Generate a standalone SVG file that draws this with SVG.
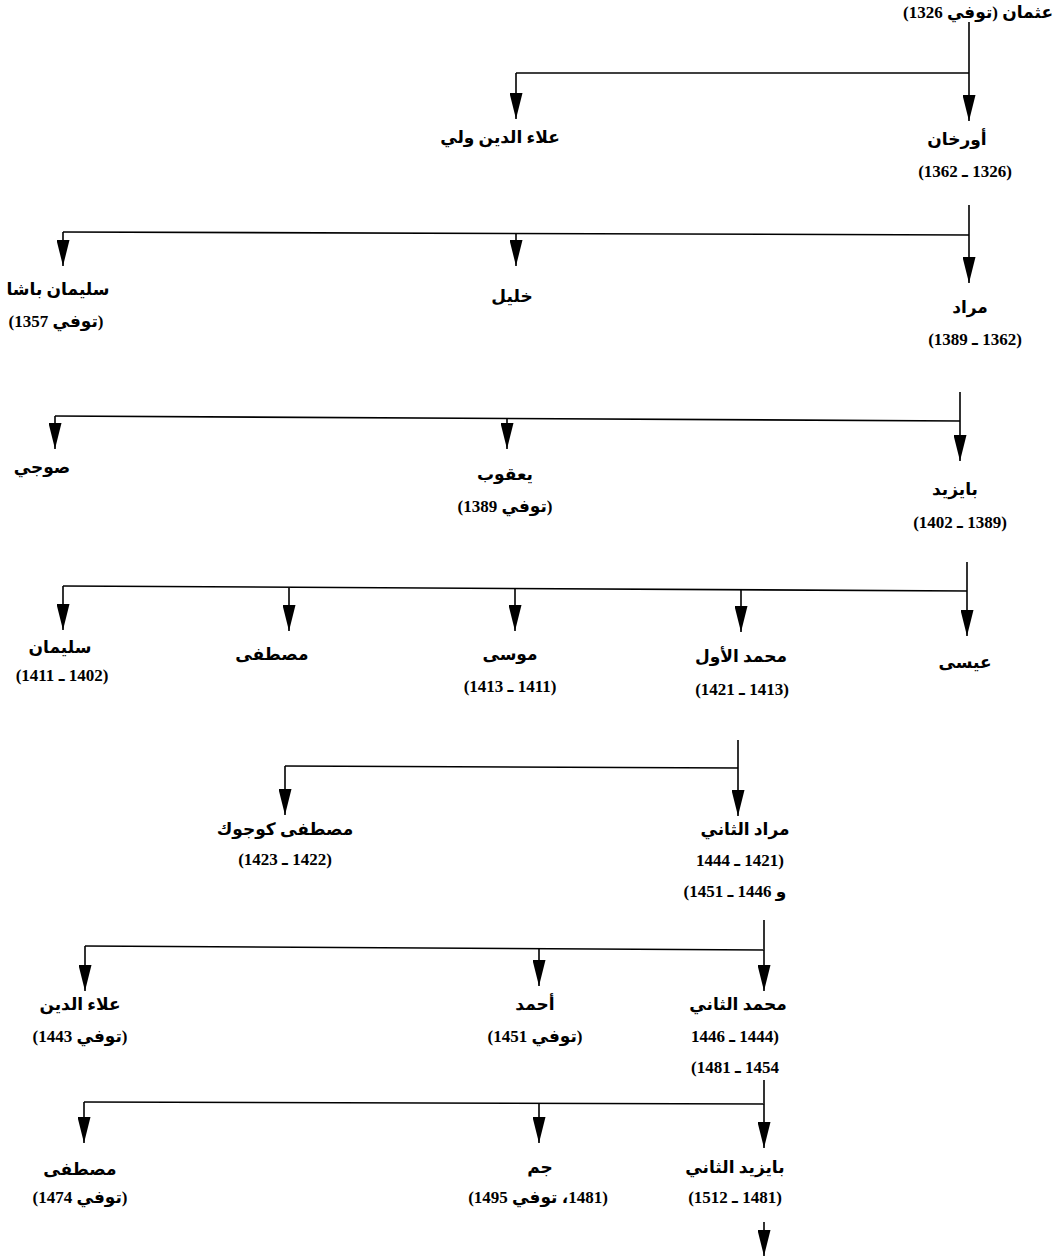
<svg xmlns="http://www.w3.org/2000/svg" width="1057" height="1257" viewBox="0 0 1057 1257">
<style>
text{font-family:"Liberation Serif","DejaVu Serif","DejaVu Sans",serif;font-weight:bold;font-size:17px;fill:#000;text-anchor:middle;direction:rtl}
.c line{stroke:#000;stroke-width:1.6;fill:none}
.c .a{marker-end:url(#arr)}
</style>
<defs>
<marker id="arr" markerUnits="userSpaceOnUse" viewBox="0 0 26 13" refX="26" refY="6.5" markerWidth="26" markerHeight="13" orient="auto">
<path d="M0,0 L26,6.5 L0,13 z" fill="#000"/>
</marker>
</defs>
<rect width="1057" height="1257" fill="#fff"/>
<g class="c" id="connectors">
<line x1="969" y1="22" x2="969" y2="121" class="a"/>
<line x1="516" y1="73" x2="969" y2="73"/>
<line x1="516" y1="73" x2="516" y2="119" class="a"/>

<line x1="969" y1="205" x2="969" y2="283" class="a"/>
<line x1="63" y1="232" x2="969" y2="235"/>
<line x1="516" y1="234" x2="516" y2="266" class="a"/>
<line x1="63" y1="232" x2="63" y2="266" class="a"/>

<line x1="960" y1="392" x2="960" y2="461" class="a"/>
<line x1="55" y1="416" x2="960" y2="421"/>
<line x1="507" y1="419" x2="507" y2="449" class="a"/>
<line x1="55" y1="416" x2="55" y2="449" class="a"/>

<line x1="967" y1="562" x2="967" y2="636" class="a"/>
<line x1="63" y1="586" x2="967" y2="591"/>
<line x1="63" y1="586" x2="63" y2="630" class="a"/>
<line x1="289" y1="588" x2="289" y2="631" class="a"/>
<line x1="515" y1="589" x2="515" y2="631" class="a"/>
<line x1="741" y1="590" x2="741" y2="632" class="a"/>

<line x1="738" y1="740" x2="738" y2="816" class="a"/>
<line x1="285" y1="766" x2="738" y2="768"/>
<line x1="285" y1="766" x2="285" y2="815" class="a"/>

<line x1="764" y1="920" x2="764" y2="991" class="a"/>
<line x1="85" y1="946" x2="764" y2="950"/>
<line x1="539" y1="948" x2="539" y2="986" class="a"/>
<line x1="85" y1="946" x2="85" y2="991" class="a"/>

<line x1="764" y1="1080" x2="764" y2="1148" class="a"/>
<line x1="84" y1="1102" x2="764" y2="1104"/>
<line x1="539" y1="1103" x2="539" y2="1143" class="a"/>
<line x1="84" y1="1102" x2="84" y2="1143" class="a"/>

<line x1="764" y1="1222" x2="764" y2="1256" class="a"/>
</g>

<g id="osman"><text x="978" y="18">عثمان (توفي 1326)</text></g>
<g id="orhan"><text x="957" y="145">أورخان</text><text x="965" y="177">(1326 ـ 1362)</text></g>
<g id="alaeddin-veli"><text x="500" y="143">علاء الدين ولي</text></g>

<g id="suleyman-pasha"><text x="58" y="295">سليمان باشا</text><text x="56" y="327">(توفي 1357)</text></g>
<g id="halil"><text x="512" y="302">خليل</text></g>
<g id="murad"><text x="970" y="313">مراد</text><text x="975" y="345">(1362 ـ 1389)</text></g>

<g id="savci"><text x="42" y="473">صوجي</text></g>
<g id="yakub"><text x="505" y="480">يعقوب</text><text x="505" y="512">(توفي 1389)</text></g>
<g id="bayezid"><text x="955" y="495">بايزيد</text><text x="960" y="528">(1389 ـ 1402)</text></g>

<g id="suleyman"><text x="60" y="653">سليمان</text><text x="62" y="681">(1402 ـ 1411)</text></g>
<g id="mustafa1"><text x="272" y="660">مصطفى</text></g>
<g id="musa"><text x="510" y="660">موسى</text><text x="510" y="692">(1411 ـ 1413)</text></g>
<g id="mehmed1"><text x="741" y="662">محمد الأول</text><text x="742" y="695">(1413 ـ 1421)</text></g>
<g id="isa"><text x="965" y="668">عيسى</text></g>

<g id="mustafa-kucuk"><text x="285" y="835">مصطفى كوجوك</text><text x="285" y="865">(1422 ـ 1423)</text></g>
<g id="murad2"><text x="745" y="835">مراد الثاني</text><text x="740" y="866">(1421 ـ 1444</text><text x="735" y="897">و 1446 ـ 1451)</text></g>

<g id="alaeddin"><text x="80" y="1010">علاء الدين</text><text x="80" y="1042">(توفي 1443)</text></g>
<g id="ahmed"><text x="535" y="1010">أحمد</text><text x="535" y="1042">(توفي 1451)</text></g>
<g id="mehmed2"><text x="738" y="1010">محمد الثاني</text><text x="735" y="1042">(1444 ـ 1446</text><text x="735" y="1073">1454 ـ 1481)</text></g>

<g id="mustafa2"><text x="80" y="1175">مصطفى</text><text x="80" y="1203">(توفي 1474)</text></g>
<g id="cem"><text x="540" y="1173">جم</text><text x="538" y="1203">(1481، توفي 1495)</text></g>
<g id="bayezid2"><text x="735" y="1173">بايزيد الثاني</text><text x="735" y="1203">(1481 ـ 1512)</text></g>
</svg>
